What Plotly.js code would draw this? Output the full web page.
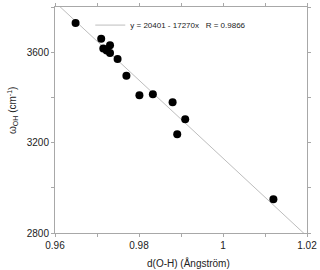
<!DOCTYPE html>
<html><head><meta charset="utf-8">
<script src="https://cdn.plot.ly/plotly-3.0.1.min.js"></script>
<style>html,body{margin:0;padding:0;background:#fff;}#chart{width:320px;height:270px;}</style>
</head><body><div id="chart"></div>
<script>
const dOH = [0.9649, 0.9710, 0.9715, 0.9723, 0.9731, 0.9731, 0.9749, 0.9770, 0.9801, 0.9833, 0.9880, 0.9910, 0.9891, 1.0120];
const wOH = [3729, 3660, 3616, 3608, 3631, 3596, 3570, 3496, 3409, 3414, 3378, 3303, 3237, 2949];
const fitX = [0.96, 1.02];
const fitY = [3821.8, 2785.6];
const fitLabel = 'y = 20401 - 17270x   R = 0.9866';
const xTickVals = [0.96, 0.97, 0.98, 0.99, 1.00, 1.01, 1.02];
const xTickText = ['0.96', '', '0.98', '', '1', '', '1.02'];
const yTickVals = [2800, 3000, 3200, 3400, 3600, 3800];
const yTickText = ['2800', '', '3200', '', '3600', ''];

const axisCommon = {
  showgrid: false, zeroline: false, showline: true, linecolor: '#a8a8a8', linewidth: 1,
  mirror: 'ticks', ticks: 'outside', ticklen: 3, tickcolor: '#a8a8a8', tickwidth: 1,
  tickfont: {family: 'Liberation Sans, Arial, sans-serif', size: 10, color: '#222'}
};

const data = [
  {x: fitX, y: fitY, mode: 'lines', name: fitLabel, line: {color: '#bdbdbd', width: 1}, showlegend: true},
  {x: dOH, y: wOH, mode: 'markers', marker: {color: '#000', size: 8}, showlegend: false}
];

const layout = {
  width: 320, height: 270,
  margin: {l: 55, r: 13, t: 7, b: 37},
  paper_bgcolor: '#fff', plot_bgcolor: '#fff',
  xaxis: Object.assign({}, axisCommon, {range: [0.96, 1.02], tickvals: xTickVals, ticktext: xTickText}),
  yaxis: Object.assign({}, axisCommon, {range: [2800, 3800], tickvals: yTickVals, ticktext: yTickText}),
  showlegend: true,
  legend: {x: 0.14, y: 0.92, xanchor: 'left', yanchor: 'middle', bgcolor: 'rgba(0,0,0,0)', itemwidth: 30,
           font: {family: 'Liberation Sans, Arial, sans-serif', size: 8, color: '#222'}},
  annotations: [
    {text: 'ω<sub>OH</sub> (cm<sup>-1</sup>)', textangle: -90, xref: 'paper', yref: 'paper',
     x: -0.171, y: 0.544, xanchor: 'center', yanchor: 'middle', showarrow: false,
     font: {family: 'Liberation Sans, Arial, sans-serif', size: 10, color: '#222'}},
    {text: 'd(O-H) (Ångström)', xref: 'paper', yref: 'paper', x: 0.528, y: -0.134,
     xanchor: 'center', yanchor: 'middle', showarrow: false,
     font: {family: 'Liberation Sans, Arial, sans-serif', size: 10, color: '#222'}}
  ]
};
Plotly.newPlot('chart', data, layout, {displayModeBar: false, staticPlot: true});
</script></body></html>
